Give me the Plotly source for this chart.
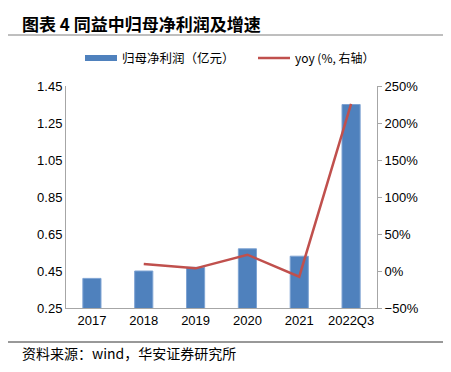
import plotly.graph_objects as go

categories = ["2017", "2018", "2019", "2020", "2021", "2022Q3"]
net_profit = [0.41, 0.45, 0.47, 0.57, 0.53, 1.35]
yoy_cats = ["2018", "2019", "2020", "2021", "2022Q3"]
yoy_pct = [9.5, 3.6, 22.0, -7.7, 225.7]

bar_name = "归母净利润（亿元）"
line_name = "yoy (%, 右轴）"
title_text = "图表 4 同益中归母净利润及增速"
source_text = "资料来源：wind，华安证券研究所"

# page body has an 8px margin; work in reference pixel coords and shift
OFF = 8
W, H = 451 - OFF, 372 - OFF
PL, PR, PT, PB = 66, 377, 86, 308  # plot area in reference coords
L, R, T, B = PL - OFF, W - (PR - OFF), PT - OFF, H - (PB - OFF)
PW, PH = W - L - R, H - T - B


def fx(x):
    return (x - PL) / PW


def fy(y):
    return (PB - y) / PH


fig = go.Figure()
fig.add_trace(go.Bar(
    x=categories, y=net_profit, name=bar_name,
    marker=dict(color="#4F81BD", line=dict(color="#7EA3D3", width=1)),
    width=0.35, showlegend=False,
))
fig.add_trace(go.Scatter(
    x=yoy_cats, y=yoy_pct, name=line_name, yaxis="y2",
    mode="lines", line=dict(color="#C0504D", width=2.5),
    showlegend=False,
))

cjk = "Noto Sans CJK SC"
tick_font = dict(family="Liberation Sans, Arial", size=13, color="#000")

fig.update_layout(
    width=W, height=H,
    margin=dict(l=L, r=R, t=T, b=B, autoexpand=False),
    paper_bgcolor="white", plot_bgcolor="white",
    showlegend=False,
    xaxis=dict(
        showline=True, linecolor="#A6A6A6", linewidth=1,
        ticks="", tickfont=tick_font, showgrid=False,
    ),
    yaxis=dict(
        range=[0.25, 1.45], dtick=0.2, tick0=0.25, tickformat=".2f",
        showline=True, linecolor="#A6A6A6", linewidth=1,
        ticks="", showgrid=False, zeroline=False, tickfont=tick_font,
    ),
    yaxis2=dict(
        overlaying="y", side="right",
        range=[-50, 250], dtick=50, ticksuffix="%",
        showline=True, linecolor="#A6A6A6", linewidth=1,
        ticks="outside", ticklen=4, tickcolor="#A6A6A6",
        showgrid=False, zeroline=False, tickfont=tick_font,
    ),
    shapes=[
        dict(type="line", xref="paper", yref="paper",
             x0=fx(0), x1=fx(447), y0=fy(35), y1=fy(35),
             line=dict(color="#7F7F7F", width=1)),
        dict(type="line", xref="paper", yref="paper",
             x0=fx(0), x1=fx(447), y0=fy(342), y1=fy(342),
             line=dict(color="#333333", width=1)),
        dict(type="rect", xref="paper", yref="paper",
             x0=fx(85), x1=fx(117), y0=fy(61), y1=fy(55),
             fillcolor="#4F81BD", line=dict(width=0)),
        dict(type="line", xref="paper", yref="paper",
             x0=fx(258), x1=fx(290), y0=fy(58), y1=fy(58),
             line=dict(color="#C0504D", width=2.5)),
    ],
    annotations=[
        dict(text="<b>" + title_text + "</b>", xref="paper", yref="paper",
             x=fx(20), y=fy(24), xanchor="left", yanchor="middle",
             showarrow=False, font=dict(family=cjk, size=17, color="#000")),
        dict(text=bar_name, xref="paper", yref="paper",
             x=fx(120), y=fy(58), xanchor="left", yanchor="middle",
             showarrow=False, font=dict(family=cjk, size=12.5, color="#000")),
        dict(text=line_name, xref="paper", yref="paper",
             x=fx(293), y=fy(58), xanchor="left", yanchor="middle",
             showarrow=False, font=dict(family=cjk, size=12, color="#000")),
        dict(text=source_text, xref="paper", yref="paper",
             x=fx(20), y=fy(353), xanchor="left", yanchor="middle",
             showarrow=False, font=dict(family=cjk, size=14, color="#000")),
    ],
)

fig.write_html("out.html")
